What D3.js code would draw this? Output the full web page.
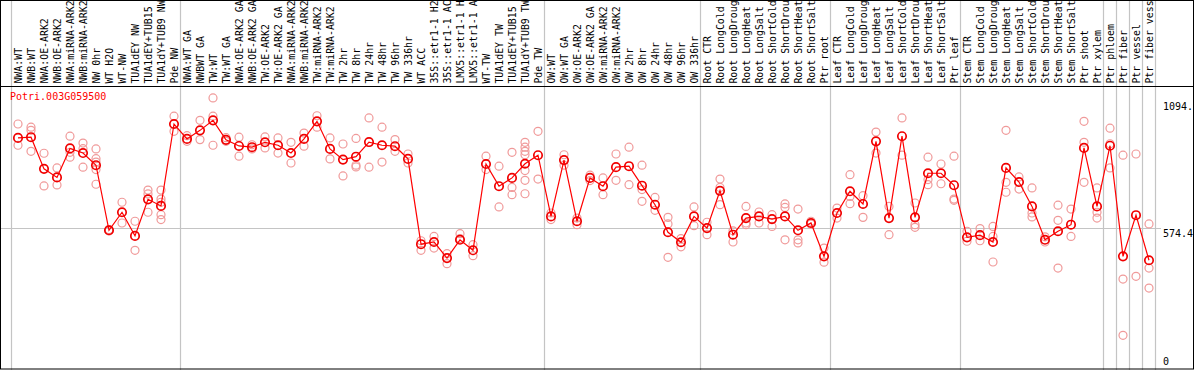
<!DOCTYPE html>
<meta charset="utf-8">
<style>
body { margin: 0; background: #fff; }
svg { display: block; }
text { font-family: "DejaVu Sans Mono", "Liberation Mono", monospace; font-size: 10px; }
.names text { font-size: 9.9px; }
</style>
<body>
<svg width="1194" height="370"></svg>
<script src="https://cdn.jsdelivr.net/npm/d3@7"></script>
<script>

var geneName = "Potri.003G059500";

// sample names, left to right (as far as they show in the header)
var labels = [
  "NWA:WT","NWB:WT","NWA:OE-ARK2","NWB:OE-ARK2","NWA:miRNA-ARK2","NWB:miRNA-ARK2","NW 0hr","WT H2O","WT-NW",
  "TUA1dEY NW","TUA1dEY+TUB15","TUA1dY+TUB9 NW","Pde NW",
  "NWA:WT GA","NWBWT GA","TW:WT","TW:WT GA","NWA:OE-ARK2 GA","NWB:OE-ARK2 GA","TW:OE-ARK2","TW:OE-ARK2 GA",
  "NWA:miRNA-ARK2","NWB:miRNA-ARK2","TW:miRNA-ARK2","TW:miRNA-ARK2","TW 2hr","TW 8hr","TW 24hr","TW 48hr",
  "TW 96hr","TW 336hr","WT ACC","35S::etr1-1 H2","35S::etr1-1 AC","LMX5::etr1-1 H","LMX5::etr1-1 A","WT-TW",
  "TUA1dEY TW","TUA1dEY+TUB15","TUA1dY+TUB9 TW","Pde TW",
  "OW:WT","OW:WT GA","OW:OE-ARK2","OW:OE-ARK2 GA","OW:miRNA-ARK2","OW:miRNA-ARK2","OW 2hr","OW 8hr","OW 24hr",
  "OW 48hr","OW 96hr","OW 336hr",
  "Root CTR","Root LongCold","Root LongDroug","Root LongHeat","Root LongSalt","Root ShortCold","Root ShortDrou",
  "Root ShortHeat","Root ShortSalt","Ptr root",
  "Leaf CTR","Leaf LongCold","Leaf LongDroug","Leaf LongHeat","Leaf LongSalt","Leaf ShortCold","Leaf ShortDrou",
  "Leaf ShortHeat","Leaf ShortSalt","Ptr leaf",
  "Stem CTR","Stem LongCold","Stem LongDroug","Stem LongHeat","Stem LongSalt","Stem ShortCold","Stem ShortDrou",
  "Stem ShortHeat","Stem ShortSalt","Ptr shoot","Ptr xylem",
  "Ptr phloem","Ptr fiber","Ptr vessel","Ptr fiber vess"
];

// index where each group of samples starts
var groupStarts = [0, 13, 41, 53, 63, 73, 84, 85, 86, 87];

// mean expression per sample
var means = [
  944, 947, 817, 782, 901, 882, 832, 565, 639, 542, 692, 665, 1001,
  940, 975, 1016, 936, 911, 906, 926, 914, 882, 940, 1012, 899, 855, 867, 927, 914, 910, 858,
  508, 517, 451, 526, 483, 837, 746, 780, 838, 873,
  622, 853, 602, 780, 746, 824, 828, 748, 670, 557, 516, 622,
  574, 727, 547, 615, 622, 611, 622, 565, 595, 458,
  636, 725, 673, 930, 615, 951, 618, 799, 799, 750,
  536, 545, 517, 821, 763, 663, 526, 561, 588, 903, 663,
  912, 458, 627, 442
];

// replicate values per sample
var replicates = [
  [1001, 914], [988, 975, 889], [881, 747], [821, 751], [951, 885, 865], [923, 900, 824],
  [899, 859, 845, 814, 754], [568, 562], [680, 595], [602, 483], [730, 714, 639],
  [730, 693, 680, 629, 609], [1033, 971],
  [953, 930], [1016, 937], [1108, 1033, 914], [945, 930], [947, 869], [916, 899], [948, 903],
  [944, 882], [926, 841], [964, 910], [1035, 988], [944, 858], [919, 788], [942, 832, 825],
  [1026, 824], [988, 845], [937, 889], [878, 841], [522, 483], [540, 492], [469, 428],
  [551, 531], [506, 461], [869, 814], [828, 661], [885, 741, 711],
  [926, 906, 889, 875, 810, 770, 715], [971, 775],
  [636, 609], [875, 832], [615, 588], [791, 769], [780, 711], [878, 770], [906, 752],
  [832, 732, 684], [700, 647], [618, 591, 454], [531, 497], [661, 584],
  [598, 547], [775, 741, 670], [563, 517], [663, 595, 588], [640, 595], [629, 581],
  [673, 659, 526], [652, 526, 513], [602, 590], [492, 434],
  [656, 615], [793, 704, 674], [707, 618], [968, 882], [663, 547], [1026, 873],
  [677, 588, 577], [865, 773, 752], [837, 756], [869, 693, 688],
  [561, 520], [572, 522], [581, 540, 435], [975, 762, 721], [784, 734], [739, 636, 620],
  [538, 517], [668, 606, 410], [652, 540], [1012, 926, 762], [739, 639, 615],
  [984, 920, 821], [873, 365, 134], [878, 376], [591, 410, 328]
];

// value labels on the right
var yMax = 1148.8;
var yLabels = [0, 574.4, 1094.1];

var svg = d3.select("svg"),
    width = +svg.attr("width"),
    height = +svg.attr("height");

var headerBottom = 86,
    plotLeft = 11.5,
    plotRight = 1155.5;

var x = d3.scaleBand()
    .domain(d3.range(labels.length))
    .range([plotLeft, plotRight])
    .padding(0);

function cx(i) { return x(i) + x.bandwidth() / 2; }

var y = d3.scaleLinear()
    .domain([0, yMax])
    .range([368, 88]);

svg.append("rect")
    .attr("width", width)
    .attr("height", height)
    .attr("fill", "#fff");

// group separators, running through the header too
var seps = groupStarts.map(function(i) { return x(i); }).concat([plotRight]);
svg.append("g")
  .selectAll("line")
  .data(seps)
  .enter().append("line")
    .attr("x1", function(d) { return d; })
    .attr("x2", function(d) { return d; })
    .attr("y1", 0)
    .attr("y2", height)
    .attr("stroke", "#c4c4c4")
    .attr("stroke-width", 1.2);

// middle grid line
svg.append("line")
    .attr("x1", 0)
    .attr("x2", 1161)
    .attr("y1", Math.round(y(yLabels[1])) + 0.5)
    .attr("y2", Math.round(y(yLabels[1])) + 0.5)
    .attr("stroke", "#c4c4c4")
    .attr("stroke-width", 1.2);

// header bottom line
svg.append("line")
    .attr("x1", 0)
    .attr("x2", width)
    .attr("y1", headerBottom + 0.5)
    .attr("y2", headerBottom + 0.5)
    .attr("stroke", "#000");

// rotated sample names
svg.append("g")
    .attr("class", "names")
  .selectAll("text")
  .data(labels)
  .enter().append("text")
    .attr("transform", function(d, i) { return "translate(" + (cx(i) + 4) + ",83.6) rotate(-90)"; })
    .attr("fill", "#000")
    .text(function(d) { return d; });

svg.append("text")
    .attr("x", 10)
    .attr("y", 100)
    .attr("fill", "#ff0000")
    .text(geneName);

// replicate circles
var reps = [];
replicates.forEach(function(r, i) {
  r.forEach(function(v) { reps.push({i: i, v: v}); });
});

svg.append("g")
  .selectAll("circle")
  .data(reps)
  .enter().append("circle")
    .attr("cx", function(d) { return cx(d.i); })
    .attr("cy", function(d) { return y(d.v); })
    .attr("r", 4)
    .attr("fill", "none")
    .attr("stroke", "#f09a9a")
    .attr("stroke-width", 1.2);

// mean line and circles
var line = d3.line()
    .x(function(d, i) { return cx(i); })
    .y(function(d) { return y(d); });

svg.append("path")
    .datum(means)
    .attr("d", line)
    .attr("fill", "none")
    .attr("stroke", "#ff0000")
    .attr("stroke-width", 1.2);

svg.append("g")
  .selectAll("circle")
  .data(means)
  .enter().append("circle")
    .attr("cx", function(d, i) { return cx(i); })
    .attr("cy", function(d) { return y(d); })
    .attr("r", 4.2)
    .attr("fill", "none")
    .attr("stroke", "#f00000")
    .attr("stroke-width", 1.7);

// right value labels, in a 5 character column
svg.append("g")
  .selectAll("text")
  .data(yLabels)
  .enter().append("text")
    .attr("x", 1163)
    .attr("y", function(d) { return Math.min(y(d) + 9, 365); })
    .attr("fill", "#000")
    .text(function(d) { return String(d).slice(0, 5); });

// frame
svg.append("rect")
    .attr("x", 0.5)
    .attr("y", 0.5)
    .attr("width", width - 1)
    .attr("height", height - 1.5)
    .attr("fill", "none")
    .attr("stroke", "#000");

</script>
</body>
